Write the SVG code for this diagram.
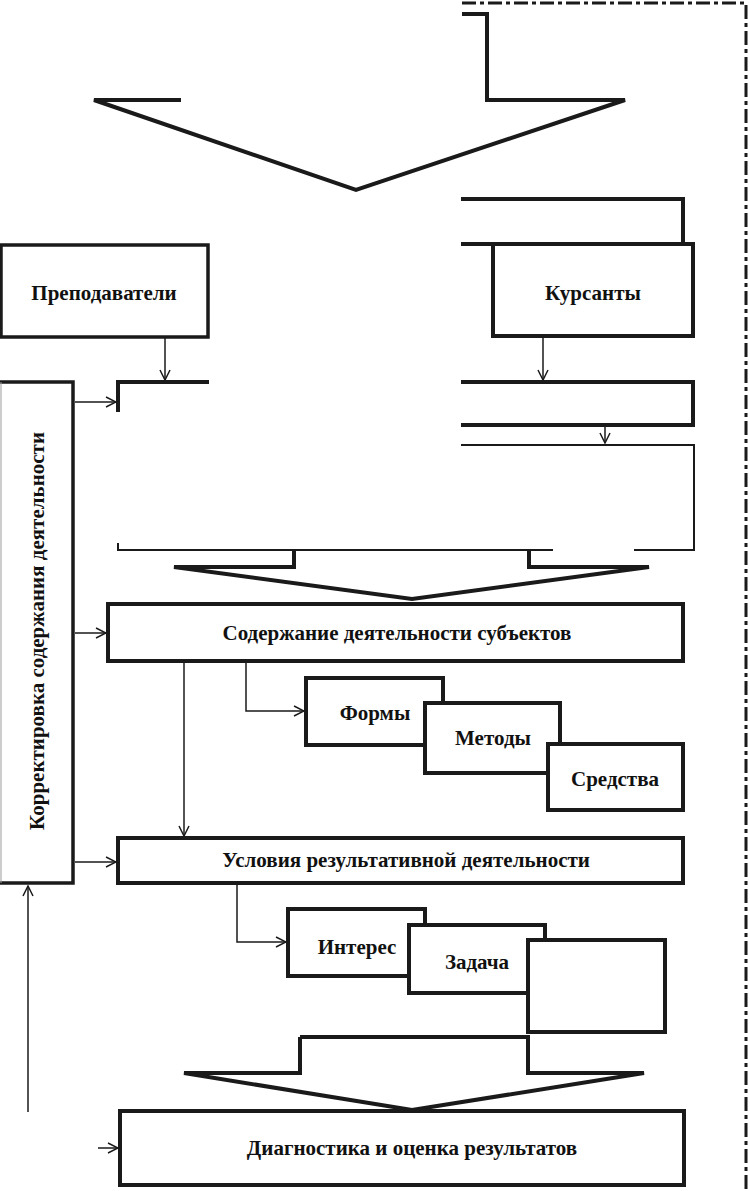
<svg xmlns="http://www.w3.org/2000/svg" width="750" height="1191" viewBox="0 0 750 1191">
<style>
.bx{fill:#fff;stroke:#1a1a1a;stroke-width:4}
.thk{fill:none;stroke:#1a1a1a;stroke-width:4;stroke-linejoin:miter}
.thn{fill:none;stroke:#1a1a1a;stroke-width:2}
.con{fill:none;stroke:#1a1a1a;stroke-width:1.5}
.dash{fill:none;stroke:#1a1a1a;stroke-width:3;stroke-dasharray:14 4 4 4}
.t{font-family:"Liberation Serif","Times New Roman",serif;font-weight:bold;font-size:21px;fill:#111;text-anchor:middle}
</style>
<defs>
<marker id="ah" viewBox="0 0 12 12" refX="11" refY="6" markerWidth="12" markerHeight="12" markerUnits="userSpaceOnUse" orient="auto">
<path d="M1,1 L11,6 L1,11" fill="none" stroke="#1a1a1a" stroke-width="1.5"/>
</marker>
</defs>
<rect width="750" height="1191" fill="#fff"/>

<g id="frame">
<path class="dash" d="M462,3 H746 V1191"/>
</g>

<g id="top-arrow">
<polyline class="thk" points="462,14 487,14 487,100 625,100 356,190 94,100 181,100"/>
</g>

<g id="upper-bracket">
<polyline class="thk" points="461,199 683,199 683,244"/>
<line class="thk" x1="461" y1="244" x2="493" y2="244"/>
</g>

<g id="prepodavateli">
<rect class="bx" x="1" y="245" width="207" height="92" style="stroke-width:3.5"/>
<text class="t" x="104" y="300">Преподаватели</text>
</g>

<g id="kursanty">
<rect class="bx" x="493" y="244" width="200" height="92"/>
<text class="t" x="593" y="300">Курсанты</text>
</g>

<g id="activity-block">
<polyline class="thk" points="209,382 118,382 118,412"/>
<polyline class="thk" points="461,382 693,382 693,425 461,425"/>
<polyline class="thn" points="461,445 694,445 694,550 634,550"/>
<line class="thn" x1="118" y1="550" x2="553" y2="550"/>
<line class="thn" x1="118" y1="543" x2="118" y2="551"/>
</g>

<g id="mid-arrow">
<polyline class="thk" points="294,550 294,567 174,567 412,599 649,567 529,567 529,550"/>
</g>

<g id="korrektirovka">
<polyline class="thk" points="0,382 73,382 73,883 0,883" style="stroke-width:3.5"/>
<line x1="1" y1="382" x2="1" y2="883" stroke="#999" stroke-width="1"/>
<text class="t" transform="translate(44,631) rotate(-90)">Корректировка содержания деятельности</text>
</g>

<g id="soderzhanie">
<rect class="bx" x="108" y="604" width="575" height="57"/>
<text class="t" x="397" y="640">Содержание деятельности субъектов</text>
</g>

<g id="formy">
<rect class="bx" x="306" y="678" width="137" height="67"/>
<text class="t" x="375" y="720">Формы</text>
</g>
<g id="metody">
<rect class="bx" x="425" y="703" width="135" height="70"/>
<text class="t" x="493" y="745">Методы</text>
</g>
<g id="sredstva">
<rect class="bx" x="548" y="744" width="135" height="66"/>
<text class="t" x="615" y="786">Средства</text>
</g>

<g id="usloviya">
<rect class="bx" x="118" y="838" width="565" height="45"/>
<text class="t" x="406" y="867">Условия результативной деятельности</text>
</g>

<g id="interes">
<rect class="bx" x="288" y="909" width="137" height="67"/>
<text class="t" x="357" y="954">Интерес</text>
</g>
<g id="zadacha">
<rect class="bx" x="409" y="925" width="136" height="68"/>
<text class="t" x="477" y="969">Задача</text>
</g>
<g id="third-condition">
<rect class="bx" x="528" y="940" width="137" height="92"/>
</g>

<g id="bottom-arrow">
<polyline class="thk" points="300,1037 528,1037 528,1073 644,1073 412,1110 184,1073 300,1073 300,1037"/>
</g>

<g id="diagnostika">
<rect class="bx" x="120" y="1111" width="564" height="74"/>
<text class="t" x="412" y="1155">Диагностика и оценка результатов</text>
</g>

<g id="connectors">
<line class="con" x1="165" y1="337" x2="165" y2="380" marker-end="url(#ah)"/>
<line class="con" x1="543" y1="336" x2="543" y2="380" marker-end="url(#ah)"/>
<line class="con" x1="605" y1="427" x2="605" y2="443" marker-end="url(#ah)"/>
<line class="con" x1="75" y1="402" x2="116" y2="402" marker-end="url(#ah)"/>
<line class="con" x1="75" y1="633" x2="106" y2="633" marker-end="url(#ah)"/>
<line class="con" x1="75" y1="862" x2="116" y2="862" marker-end="url(#ah)"/>
<line class="con" x1="184" y1="663" x2="184" y2="836" marker-end="url(#ah)"/>
<polyline class="con" points="246,663 246,711 304,711" marker-end="url(#ah)"/>
<polyline class="con" points="237,885 237,942 286,942" marker-end="url(#ah)"/>
<line class="con" x1="28" y1="1112" x2="28" y2="886" marker-end="url(#ah)"/>
<line class="con" x1="98" y1="1148" x2="118" y2="1148" marker-end="url(#ah)"/>
</g>
</svg>
